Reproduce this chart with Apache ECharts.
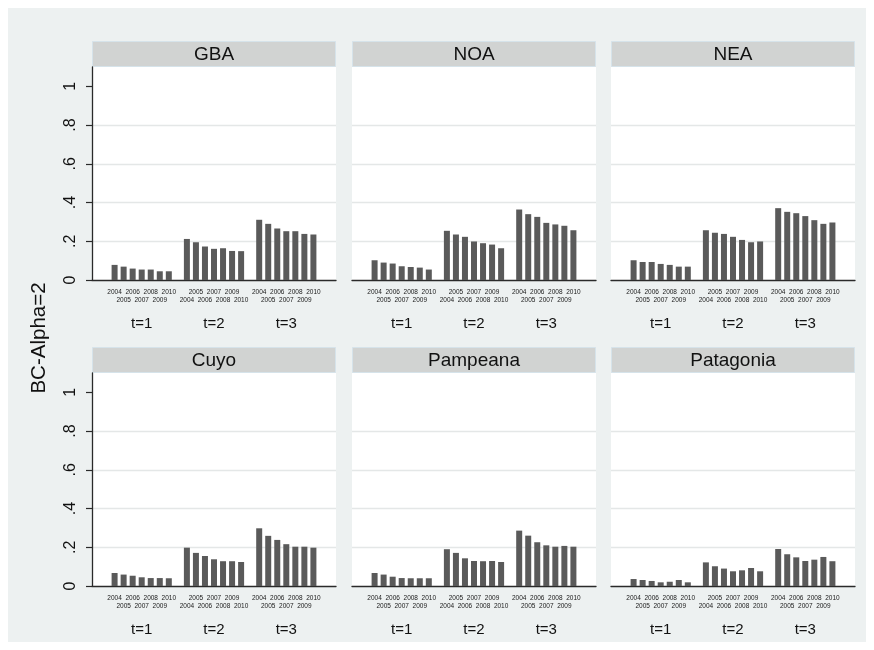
<!DOCTYPE html>
<html>
<head>
<meta charset="utf-8">
<title>BC-Alpha=2 por región</title>
<script src="https://cdn.jsdelivr.net/npm/echarts@6/dist/echarts.min.js"></script>
<style>
  html, body { margin: 0; padding: 0; background: #ffffff; }
  #chart { width: 874px; height: 650px; }
</style>
</head>
<body>
<div id="chart"></div>
<script>
// Years within each period group and the period groups
const years = ['2004', '2005', '2006', '2007', '2008', '2009', '2010'];
const periods = ['t=1', 't=2', 't=3'];
const regions = ['GBA', 'NOA', 'NEA', 'Cuyo', 'Pampeana', 'Patagonia'];
const yTicks = [0, 0.2, 0.4, 0.6, 0.8, 1];
const yTickLabels = ['0', '.2', '.4', '.6', '.8', '1'];
const yTitle = 'BC-Alpha=2';

// Index values per region: one array per period (2004..2010)
const gba = [
  [0.078, 0.069, 0.059, 0.054, 0.054, 0.045, 0.045],
  [0.212, 0.195, 0.173, 0.161, 0.164, 0.150, 0.149],
  [0.311, 0.290, 0.266, 0.252, 0.252, 0.238, 0.235]
];
const noa = [
  [0.102, 0.090, 0.085, 0.071, 0.067, 0.064, 0.054],
  [0.254, 0.235, 0.223, 0.199, 0.190, 0.183, 0.164],
  [0.364, 0.340, 0.326, 0.295, 0.287, 0.280, 0.257]
];
const nea = [
  [0.102, 0.093, 0.093, 0.083, 0.078, 0.069, 0.069],
  [0.257, 0.244, 0.238, 0.223, 0.207, 0.195, 0.199],
  [0.371, 0.352, 0.345, 0.330, 0.309, 0.290, 0.297]
];
const cuyo = [
  [0.067, 0.059, 0.053, 0.045, 0.041, 0.041, 0.040],
  [0.198, 0.171, 0.155, 0.138, 0.128, 0.128, 0.124],
  [0.298, 0.259, 0.238, 0.216, 0.203, 0.203, 0.198]
];
const pampeana = [
  [0.067, 0.059, 0.048, 0.041, 0.040, 0.040, 0.040],
  [0.190, 0.171, 0.143, 0.129, 0.128, 0.129, 0.124],
  [0.286, 0.260, 0.226, 0.210, 0.203, 0.207, 0.203]
];
const patagonia = [
  [0.036, 0.031, 0.026, 0.019, 0.022, 0.031, 0.019],
  [0.122, 0.102, 0.090, 0.076, 0.081, 0.093, 0.076],
  [0.191, 0.164, 0.148, 0.129, 0.136, 0.150, 0.128]
];
const regionValues = [gba, noa, nea, cuyo, pampeana, patagonia];

// Category slots: two padding slots at each end, one spacer between groups
const PAD = 2;
const categories = [];
const labelUpper = [];
const labelLower = [];
const labelGroup = [];
function addSlot(key, up, low, grp) {
  categories.push(key); labelUpper.push(up); labelLower.push(low); labelGroup.push(grp);
}
for (let i = 0; i < PAD; i++) addSlot('pad-a' + i, '', '', '');
let barIndex = 0;
periods.forEach((p, g) => {
  if (g > 0) addSlot('gap' + g, '', '', '');
  years.forEach((y, k) => {
    const upper = barIndex % 2 === 0;
    addSlot(p + '|' + y, upper ? y : '', upper ? '' : y, k === 3 ? p : '');
    barIndex++;
  });
});
for (let i = 0; i < PAD; i++) addSlot('pad-b' + i, '', '', '');

function seriesData(vals) {
  const out = new Array(categories.length).fill(null);
  periods.forEach((p, g) => {
    years.forEach((y, k) => {
      out[categories.indexOf(p + '|' + y)] = vals[g][k];
    });
  });
  return out;
}

// Panel geometry
const colLeft = [92, 352, 611];
const panelW = 244;
const rowTop = [67, 373];
const plotH = 213;
const stripH = 26;

const FONT = '"Liberation Sans", Arial, Helvetica, sans-serif';
const BG = '#edf1f1';
const INK = '#2a2a2a';

const grids = [], xAxes = [], yAxes = [], series = [], graphics = [];

graphics.push({
  type: 'rect', z: -10, silent: true,
  shape: { x: 8, y: 8, width: 858, height: 634 },
  style: { fill: BG }
});

regions.forEach((name, r) => {
  const col = r % 3, row = Math.floor(r / 3);
  grids.push({
    left: colLeft[col], top: rowTop[row], width: panelW, height: plotH,
    show: true, backgroundColor: '#ffffff', borderWidth: 0
  });
  const base = {
    type: 'category', gridIndex: r, data: categories, position: 'bottom',
    boundaryGap: true, axisTick: { show: false }, splitLine: { show: false }
  };
  xAxes.push(Object.assign({}, base, {
    axisLine: { show: true, lineStyle: { color: INK, width: 1.3 } },
    axisLabel: {
      interval: 0, margin: 9, fontSize: 6.5, fontFamily: FONT, color: '#1a1a1a',
      formatter: (v, i) => labelUpper[i]
    }
  }));
  xAxes.push(Object.assign({}, base, {
    offset: 7.5, axisLine: { show: false },
    axisLabel: {
      interval: 0, margin: 9, fontSize: 6.5, fontFamily: FONT, color: '#1a1a1a',
      formatter: (v, i) => labelLower[i]
    }
  }));
  xAxes.push(Object.assign({}, base, {
    offset: 28, axisLine: { show: false },
    axisLabel: {
      interval: 0, margin: 8, fontSize: 15, fontFamily: FONT, color: '#111111',
      formatter: (v, i) => labelGroup[i]
    }
  }));
  const first = col === 0;
  yAxes.push({
    type: 'value', gridIndex: r, min: 0, max: 1.1, interval: 0.2,
    axisLine: { show: first, lineStyle: { color: INK, width: 1.3 } },
    axisTick: { show: first, length: 6, lineStyle: { color: INK, width: 1.2 } },
    axisLabel: {
      show: first, rotate: 90, margin: 13, fontSize: 16, fontFamily: FONT, color: '#111111',
      showMaxLabel: false,
      formatter: v => {
        const i = yTicks.findIndex(t => Math.abs(t - v) < 1e-9);
        return i >= 0 ? yTickLabels[i] : '';
      }
    },
    splitLine: {
      show: true,
      lineStyle: { color: ['rgba(0,0,0,0)', '#e4e7e7', '#e4e7e7', '#e4e7e7', '#e4e7e7', 'rgba(0,0,0,0)', 'rgba(0,0,0,0)'], width: 1.3 }
    }
  });
  series.push({
    type: 'bar', name: name, xAxisIndex: r * 3, yAxisIndex: r,
    data: seriesData(regionValues[r]), barWidth: 6,
    itemStyle: { color: '#5a5a5a' }, silent: true
  });
  // Panel strip with region name
  const sx = colLeft[col], sy = rowTop[row] - stripH;
  graphics.push({
    type: 'rect', silent: true,
    shape: { x: sx + 0.5, y: sy + 0.5, width: panelW - 1, height: stripH - 1 },
    style: { fill: '#d1d3d2', stroke: '#d6e3ea', lineWidth: 1 }
  });
  graphics.push({
    type: 'text', silent: true, x: sx + panelW / 2, y: sy + stripH / 2 + 1,
    style: { text: name, align: 'center', verticalAlign: 'middle', fontSize: 19, fontFamily: FONT, fill: '#111111' }
  });
});

graphics.push({
  type: 'text', silent: true, x: 39, y: 338, rotation: Math.PI / 2,
  style: { text: yTitle, align: 'center', verticalAlign: 'middle', fontSize: 20.5, fontFamily: FONT, fill: '#111111' }
});

const chart = echarts.init(document.getElementById('chart'), null, { renderer: 'canvas' });
chart.setOption({
  backgroundColor: '#ffffff',
  animation: false,
  grid: grids,
  xAxis: xAxes,
  yAxis: yAxes,
  series: series,
  graphic: graphics
});
</script>
</body>
</html>
